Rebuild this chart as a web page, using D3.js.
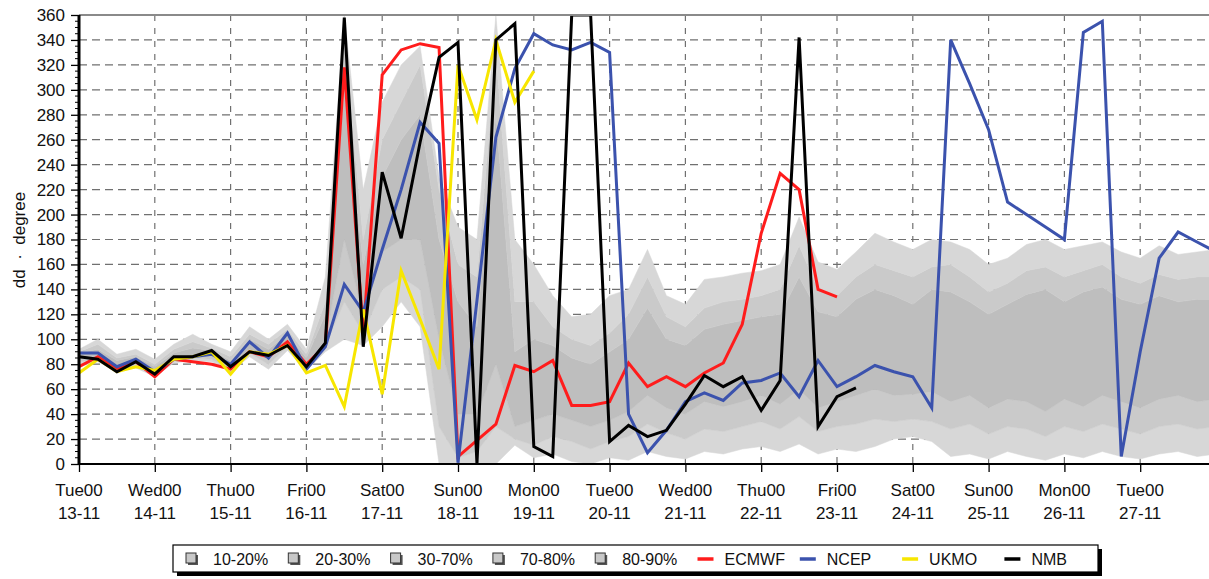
<!DOCTYPE html>
<html><head><meta charset="utf-8">
<script src="https://cdn.jsdelivr.net/npm/d3@7/dist/d3.min.js"></script>
<style>
body{margin:0;background:#fff}
svg{display:block;font-family:"Liberation Sans",Arial,sans-serif}
</style>
</head><body>
<svg id="c" width="1209" height="579"></svg>
<script>
// ---- data (6-hourly steps starting Tue 13-11 00h) ----
const dayLabels = ["Tue00","Wed00","Thu00","Fri00","Sat00","Sun00","Mon00","Tue00","Wed00","Thu00","Fri00","Sat00","Sun00","Mon00","Tue00"];
const dateLabels = ["13-11","14-11","15-11","16-11","17-11","18-11","19-11","20-11","21-11","22-11","23-11","24-11","25-11","26-11","27-11"];
const yTicks = [0,20,40,60,80,100,120,140,160,180,200,220,240,260,280,300,320,340,360];

const ecmwf = [78,86,76,82,70,84,82,80,76,90,86,98,80,
  95,318,105,312,332,337,334,6,19,32,79,74,
  83,47,47,50,81,62,70,62,73,81,112,185,233,220,140,134];
const ncep = [89,89,78,84,74,84,86,88,80,98,85,105,76,
  94,144,122,172,220,274,257,1,131,262,317,345,
  336,332,338,330,40,9,27,50,57,51,65,67,73,54,83,62,
  70,79,74,70,45,340,305,268,210,200,190,180,346,355,6,90,165,186,178,170];
const ukmo = [73,84,74,78,75,84,86,90,72,90,88,95,73,
  79,46,124,56,155,116,76,320,276,340,290,315];
const nmb = [86,84,74,82,72,86,86,91,78,90,87,95,78,
  97,358,94,234,181,258,326,338,0,340,353,14,
  6,360,360,18,31,22,27,48,71,62,70,43,67,342,30,54,61];

const p10 = [78,82,74,77,70,81,83,82,74,86,76,91,75,
  90,100,95,110,130,110,0,0,0,0,15,5,
  8,2,0,5,3,10,6,4,10,8,12,14,10,16,8,12,10,14,20,22,18,6,8,4,10,6,3,8,5,10,6,4,8,10,6,8];
const p20 = [82,84,76,79,71,83,85,84,76,89,80,94,77,
  95,130,105,140,150,140,30,5,10,30,20,15,
  22,18,12,18,22,32,25,20,28,26,30,34,28,38,26,30,32,36,34,36,34,28,32,24,30,28,22,30,26,32,28,24,30,32,28,30];
const p30 = [84,86,78,81,73,85,87,86,78,92,85,96,79,
  100,180,120,170,180,180,100,40,40,80,30,35,
  40,35,30,35,42,55,45,40,50,46,50,55,48,60,45,50,55,60,55,56,58,50,55,45,52,50,42,52,46,55,50,45,52,55,50,52];
const p70 = [89,92,83,86,78,89,93,91,83,100,92,104,85,
  120,300,160,230,260,280,180,130,110,280,90,100,
  95,85,80,90,100,125,100,95,108,112,115,118,120,150,122,118,132,140,135,128,140,138,130,120,128,136,140,130,138,142,132,128,135,130,132,132];
const p80 = [90,96,85,88,80,92,98,93,86,104,96,108,88,
  130,340,180,260,290,320,220,160,150,330,130,130,
  110,100,95,105,120,150,118,110,125,130,132,135,140,175,140,135,150,160,155,150,158,160,150,138,145,155,158,150,155,160,150,145,152,148,150,150];
const p90 = [92,100,88,92,84,96,104,96,90,110,100,112,92,
  150,360,220,290,320,335,230,190,180,360,180,160,
  135,118,120,135,140,172,135,128,148,150,153,155,160,198,162,156,170,185,178,172,180,178,172,160,165,176,180,172,175,178,170,165,175,168,170,172];

const seriesNames = ["ECMWF","NCEP","UKMO","NMB"];
const bandNames = ["10-20%","20-30%","30-70%","70-80%","80-90%"];

// ---- layout ----
const svg = d3.select("#c");
const L = 79, T = 15, B = 464, R = 79 + 15*75.8;
const x = d3.scaleLinear().domain([0,15]).range([L,R]);
const y = d3.scaleLinear().domain([0,360]).range([B,T]);
const tx = i => x(i*0.25);

svg.append("rect").attr("width",1209).attr("height",579).attr("fill","#fff");
svg.append("defs").append("clipPath").attr("id","pc")
  .append("rect").attr("x",L).attr("y",T).attr("width",R-L).attr("height",B-T);

// grid
const g = svg.append("g");
g.selectAll(".hg").data(yTicks.filter(v=>v>0&&v<360)).join("line")
  .attr("x1",L).attr("x2",R).attr("y1",d=>y(d)).attr("y2",d=>y(d))
  .attr("stroke","#707070").attr("stroke-width",1.2).attr("stroke-dasharray","8,5");
g.selectAll(".vg").data(d3.range(1,15)).join("line")
  .attr("x1",d=>x(d)).attr("x2",d=>x(d)).attr("y1",T).attr("y2",B)
  .attr("stroke","#707070").attr("stroke-width",1.2).attr("stroke-dasharray","6,7");

// bands
const plot = svg.append("g").attr("clip-path","url(#pc)");
const bands = [
  {lo:p10, hi:p20, c:"#d7d7d7"},
  {lo:p20, hi:p30, c:"#cacaca"},
  {lo:p30, hi:p70, c:"#bebebe"},
  {lo:p70, hi:p80, c:"#cacaca"},
  {lo:p80, hi:p90, c:"#d7d7d7"}
];
bands.forEach(b=>{
  const area = d3.area().x((d,i)=>tx(i)).y0((d,i)=>y(b.lo[i])).y1((d,i)=>y(b.hi[i]));
  plot.append("path").datum(b.lo).attr("d",area).attr("fill",b.c).attr("stroke",b.c).attr("stroke-width",0.5);
});

// lines
const lines = [
  {d:ecmwf, c:"#ff1c1c"},
  {d:ncep, c:"#3b52ad"},
  {d:ukmo, c:"#f7e600"},
  {d:nmb, c:"#000000"}
];
const lg = d3.line().x((d,i)=>tx(i)).y(d=>y(d));
lines.forEach(s=>{
  plot.append("path").datum(s.d).attr("d",lg).attr("fill","none")
    .attr("stroke",s.c).attr("stroke-width",3).attr("stroke-linejoin","miter");
});

// top border
svg.append("line").attr("x1",L).attr("x2",R).attr("y1",T).attr("y2",T)
  .attr("stroke","#8a8a8a").attr("stroke-width",2);

// y axis
const ya = svg.append("g").attr("transform",`translate(${L},0)`)
  .call(d3.axisLeft(y).tickValues(yTicks).tickSize(8).tickPadding(6).tickFormat(d3.format("d")));
ya.select(".domain").remove();
ya.selectAll(".tick line").attr("stroke","#000").attr("stroke-width",1.3);
ya.selectAll("text").attr("font-size",17).attr("fill","#111").attr("font-family","Liberation Sans, Arial, sans-serif");
svg.append("g").selectAll("line").data(d3.range(0,361,5).filter(v=>v%20)).join("line")
  .attr("x1",L-4).attr("x2",L).attr("y1",d=>y(d)).attr("y2",d=>y(d))
  .attr("stroke","#000").attr("stroke-width",1);
svg.append("line").attr("x1",L).attr("x2",L).attr("y1",T).attr("y2",B+1)
  .attr("stroke","#000").attr("stroke-width",3);

// x axis
const xa = svg.append("g").attr("transform",`translate(0,${B})`)
  .call(d3.axisBottom(x).tickValues(d3.range(0,15)).tickSize(8).tickFormat(""));
xa.select(".domain").remove();
xa.selectAll(".tick line").attr("stroke","#000").attr("stroke-width",1.3);
svg.append("line").attr("x1",L-1).attr("x2",R).attr("y1",B).attr("y2",B)
  .attr("stroke","#000").attr("stroke-width",2.2);
const xl = svg.append("g").attr("font-size",17).attr("fill","#111").attr("text-anchor","middle");
xl.selectAll(".d1").data(dayLabels).join("text").attr("x",(d,i)=>x(i)).attr("y",496).text(d=>d);
xl.selectAll(".d2").data(dateLabels).join("text").attr("x",(d,i)=>x(i)).attr("y",519).text(d=>d);

// y label
svg.append("text").attr("transform","translate(25,240) rotate(-90)").attr("text-anchor","middle")
  .attr("font-size",17).attr("fill","#111").style("white-space","pre").text("dd  ·  degree");

// legend
const lgX = 173, lgY = 545, lgW = 925, lgH = 27;
svg.append("rect").attr("x",lgX+4).attr("y",lgY+4).attr("width",lgW).attr("height",lgH).attr("fill","#000");
svg.append("rect").attr("x",lgX).attr("y",lgY).attr("width",lgW).attr("height",lgH).attr("fill","#fff").attr("stroke","#000").attr("stroke-width",1.2);
const slot = 102.3, s0 = 186, cy = 559;
bandNames.forEach((n,i)=>{
  const sx = s0 + i*slot;
  svg.append("rect").attr("x",sx+2).attr("y",cy-4).attr("width",10).attr("height",10).attr("fill","#555");
  svg.append("rect").attr("x",sx).attr("y",cy-6).attr("width",10).attr("height",10).attr("fill","#c8c8c8").attr("stroke","#333").attr("stroke-width",1);
  svg.append("text").attr("x",sx+27).attr("y",cy+6).attr("font-size",16).attr("fill","#111").text(n);
});
seriesNames.forEach((n,i)=>{
  const sx = s0 + (5+i)*slot;
  svg.append("line").attr("x1",sx).attr("x2",sx+16).attr("y1",cy).attr("y2",cy).attr("stroke",lines[i].c).attr("stroke-width",3.5);
  svg.append("text").attr("x",sx+27).attr("y",cy+6).attr("font-size",16).attr("fill","#111").text(n);
});
</script>
</body></html>
